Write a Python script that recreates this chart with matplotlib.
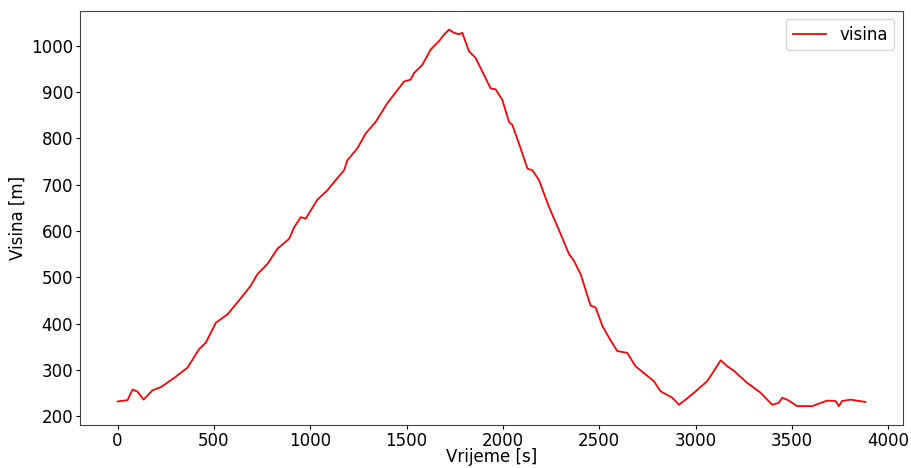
import matplotlib
matplotlib.use("Agg")
import matplotlib.pyplot as plt

# vrijeme [s] i visina [m]
vrijeme = [0, 52, 78, 104, 135, 181, 225, 294, 363, 423, 458, 510, 570, 622, 657,
           691, 726, 778, 830, 890, 916, 951, 977, 1037, 1089, 1124, 1175, 1193,
           1245, 1288, 1340, 1400, 1487, 1521, 1538, 1582, 1625, 1668, 1694, 1720,
           1746, 1772, 1789, 1824, 1858, 1884, 1936, 1962, 1997, 2031, 2049, 2083,
           2127, 2153, 2187, 2239, 2299, 2342, 2368, 2403, 2455, 2481, 2516, 2550,
           2593, 2645, 2688, 2783, 2818, 2879, 2913, 2948, 3000, 3060, 3095, 3130,
           3164, 3199, 3268, 3337, 3397, 3432, 3449, 3475, 3527, 3605, 3683, 3726,
           3743, 3760, 3804, 3881]
visina = [232, 235, 258, 253, 236, 256, 263, 283, 305, 345, 359, 402, 420, 446, 464,
          482, 507, 529, 562, 583, 608, 630, 627, 668, 688, 706, 731, 753,
          779, 811, 836, 876, 923, 927, 941, 959, 992, 1010, 1024, 1035,
          1028, 1025, 1028, 988, 974, 952, 908, 906, 883, 836, 829, 789,
          735, 731, 710, 652, 594, 551, 536, 507, 439, 435, 395, 370,
          341, 337, 308, 276, 254, 240, 225, 236, 254, 276, 298, 321,
          308, 298, 272, 251, 225, 229, 240, 236, 222, 222, 234, 233,
          222, 233, 236, 231]

fig = plt.figure(figsize=(9.11, 4.68), dpi=100)
ax = fig.add_axes([0.088, 0.092, 0.903, 0.885])
ax.plot(vrijeme, visina, color="red", linewidth=1.3, label="visina")
ax.set_xlabel("Vrijeme [s]", fontsize=12, labelpad=-1)
ax.set_ylabel("Visina [m]", fontsize=12, labelpad=3)
ax.tick_params(labelsize=12, length=3, pad=2)
for s in ax.spines.values():
    s.set_edgecolor("#444444")
ax.legend(loc="upper right", fontsize=12)

fig.savefig("out.png", dpi=100)
